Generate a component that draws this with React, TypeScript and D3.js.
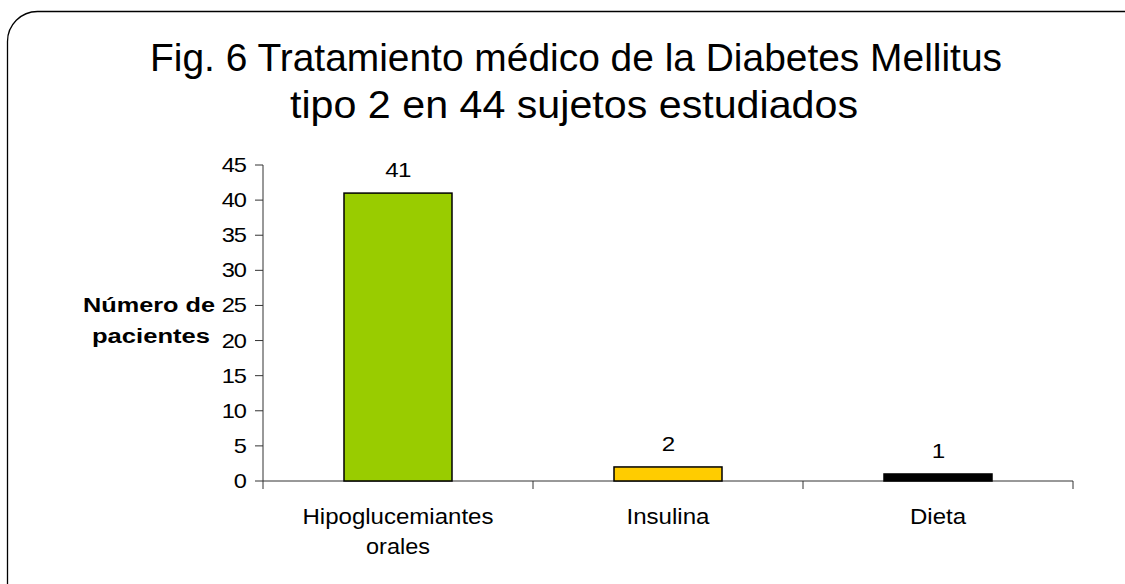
import React from "react";
import * as d3 from "d3";

const categories = ["Hipoglucemiantes orales", "Insulina", "Dieta"];
const categoryLines = [["Hipoglucemiantes", "orales"], ["Insulina"], ["Dieta"]];
const values = [41, 2, 1];
const colors = ["#99CC00", "#FFCC00", "#000000"];
const yTicks = [0, 5, 10, 15, 20, 25, 30, 35, 40, 45];
const titleLines = ["Fig. 6 Tratamiento médico de la Diabetes Mellitus", "tipo 2 en 44 sujetos estudiados"];
const yLabelLines = ["Número de", "pacientes"];

const W = 1125;
const H = 584;
const left = 263;
const right = 1073;
const top = 165;
const bottom = 481;

// measured widths of the stretched text in the reference
const titleSpans = [[150, 1002], [290, 858]];
const yLabelSpans = [[83, 215], [92, 210]];
const catWidths = [[191, 64], [83], [56]];

export default function App() {
  const x = d3.scaleBand<string>().domain(categories).range([left, right]).paddingInner(0.6).paddingOuter(0.3);
  const xOuter = d3.scaleBand<string>().domain(categories).range([left, right]);
  const y = d3.scaleLinear().domain([0, 45]).range([bottom, top]);
  const font = "'Liberation Sans', Arial, sans-serif";
  const bw = x.bandwidth();
  const sx = 1.18;

  return (
    <svg width={W} height={H} style={{ position: "absolute", left: 0, top: 0, background: "#fff" }} fontFamily={font}>
      <rect x={7.5} y={11.5} width={1160} height={620} rx={30} ry={30} fill="#fff" stroke="#000" strokeWidth={1.3} />
      {titleLines.map((t, i) => (
        <text key={i} x={titleSpans[i][0]} y={71 + i * 47} fontSize={38.5} textLength={titleSpans[i][1] - titleSpans[i][0]} lengthAdjust="spacingAndGlyphs" fill="#000">
          {t}
        </text>
      ))}
      {/* y axis */}
      <line x1={left} x2={left} y1={top} y2={bottom} stroke="#333" strokeWidth={1} />
      {yTicks.map((t) => (
        <g key={t}>
          <line x1={left - 8} x2={left} y1={y(t)} y2={y(t)} stroke="#333" />
          <text transform={`translate(246,${y(t) + 7}) scale(${sx},1)`} textAnchor="end" fontSize={20} letterSpacing={-0.8} fill="#000">
            {t}
          </text>
        </g>
      ))}
      {yLabelLines.map((t, i) => (
        <text key={i} x={yLabelSpans[i][0]} y={312 + i * 31} fontSize={19.5} fontWeight="bold" textLength={yLabelSpans[i][1] - yLabelSpans[i][0]} lengthAdjust="spacingAndGlyphs" fill="#000">
          {t}
        </text>
      ))}
      {/* x axis */}
      <line x1={left} x2={right} y1={bottom} y2={bottom} stroke="#333" />
      {[...categories.map((c) => xOuter(c)!), right].map((px, i) => (
        <line key={i} x1={px} x2={px} y1={bottom} y2={bottom + 8} stroke="#333" />
      ))}
      {categories.map((c, i) => {
        const cx = x(c)! + bw / 2;
        return (
          <g key={c}>
            <rect x={x(c)!} y={y(values[i])} width={bw} height={bottom - y(values[i])} fill={colors[i]} stroke="#000" strokeWidth={1.5} />
            <text transform={`translate(${cx},${y(values[i]) - 16}) scale(${sx},1)`} textAnchor="middle" fontSize={20.5} letterSpacing={-0.6} fill="#000">
              {values[i]}
            </text>
            {categoryLines[i].map((l, j) => (
              <text key={j} x={cx - catWidths[i][j] / 2} y={524 + j * 30} fontSize={22.5} textLength={catWidths[i][j]} lengthAdjust="spacingAndGlyphs" fill="#000">
                {l}
              </text>
            ))}
          </g>
        );
      })}
    </svg>
  );
}
